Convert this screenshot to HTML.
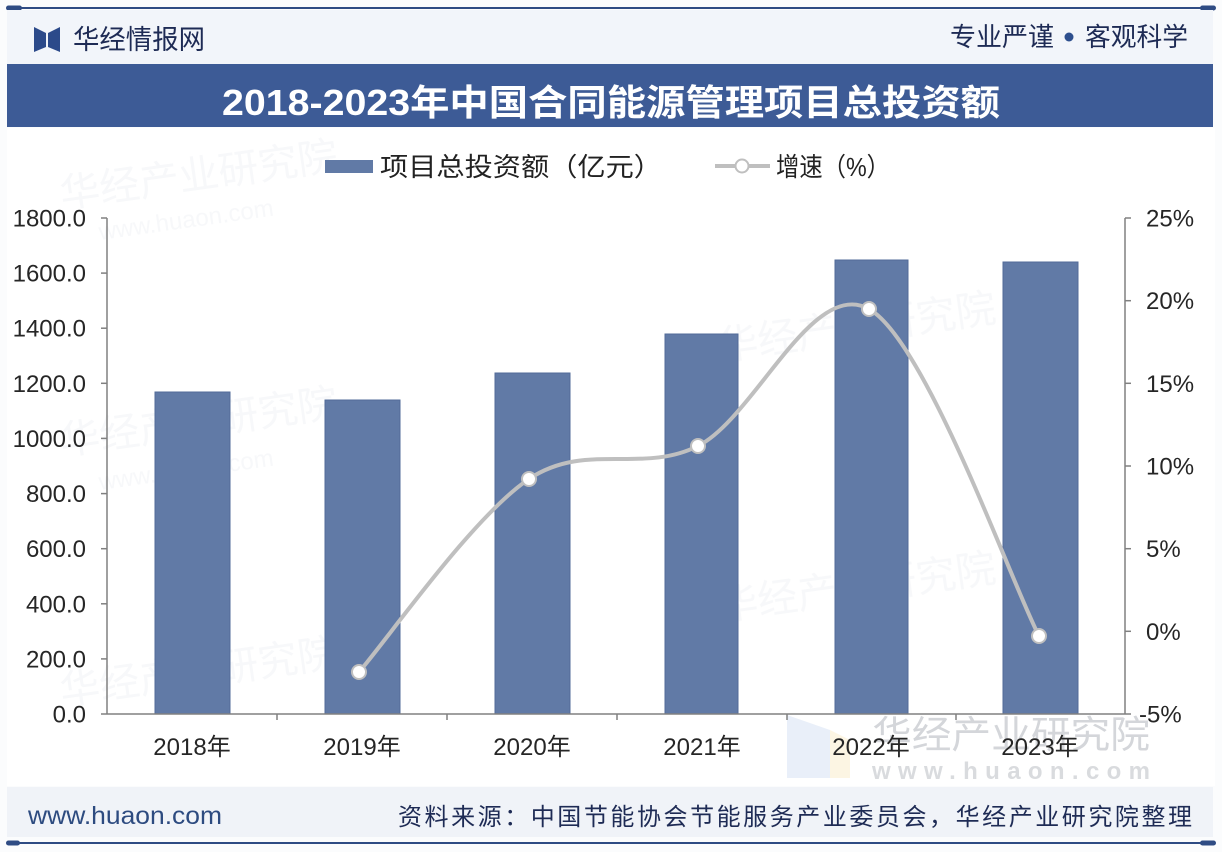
<!DOCTYPE html>
<html>
<head>
<meta charset="utf-8">
<style>
html,body{margin:0;padding:0;background:#fbfcfd;}
svg{display:block;}
</style>
</head>
<body>
<svg width="1222" height="852" viewBox="0 0 1222 852" xmlns="http://www.w3.org/2000/svg">
  <!-- background -->
  <rect x="0" y="0" width="1222" height="852" fill="#fbfcfd"/>
  <rect x="7" y="128" width="1208" height="658" fill="#ffffff"/>

  <!-- top line -->
  <line x1="9" y1="8" x2="1213" y2="8" stroke="#2f4c84" stroke-width="2"/>
  <rect x="6" y="5.5" width="16" height="5" rx="2.5" fill="#2f4c84"/>
  <rect x="1200" y="5.5" width="16" height="5" rx="2.5" fill="#2f4c84"/>

  <!-- header band -->
  <rect x="7" y="10" width="1206" height="54" fill="#f2f5fa"/>
  <polygon points="34,27 46,33 46,47 34,52" fill="#2c4a8a"/>
  <polygon points="60,27 48,33 48,47 60,52" fill="#2c4a8a"/>
  <text x="73" y="49" font-family="'Liberation Sans','Noto Sans CJK SC',sans-serif" font-size="27" fill="#1e2b55" textLength="132" lengthAdjust="spacingAndGlyphs">华经情报网</text>
  <text x="950" y="46" font-family="'Liberation Sans','Noto Sans CJK SC',sans-serif" font-size="26" fill="#1e2b55" textLength="104" lengthAdjust="spacingAndGlyphs">专业严谨</text>
  <circle cx="1069" cy="37" r="4.5" fill="#2d4f8e"/>
  <text x="1085" y="46" font-family="'Liberation Sans','Noto Sans CJK SC',sans-serif" font-size="26" fill="#1e2b55" textLength="103" lengthAdjust="spacingAndGlyphs">客观科学</text>

  <!-- title band -->
  <rect x="7" y="64" width="1206" height="63" fill="#3d5b96"/>
  <text x="222" y="115" font-family="'Liberation Sans','Noto Sans CJK SC',sans-serif" font-weight="bold" font-size="36" fill="#ffffff" textLength="778" lengthAdjust="spacingAndGlyphs">2018-2023年中国合同能源管理项目总投资额</text>

  <!-- watermarks -->
  <g font-family="'Liberation Sans','Noto Sans CJK SC',sans-serif" fill="#9aa6b8" opacity="0.08">
    <text x="62" y="208" font-size="40" transform="rotate(-8 62 208)">华经产业研究院</text>
    <text x="100" y="240" font-size="24" transform="rotate(-8 100 240)">www.huaon.com</text>
    <text x="62" y="455" font-size="40" transform="rotate(-8 62 455)">华经产业研究院</text>
    <text x="100" y="490" font-size="24" transform="rotate(-8 100 490)">www.huaon.com</text>
    <text x="62" y="705" font-size="40" transform="rotate(-8 62 705)">华经产业研究院</text>
    <text x="720" y="360" font-size="40" transform="rotate(-8 720 360)">华经产业研究院</text>
    <text x="720" y="620" font-size="40" transform="rotate(-8 720 620)">华经产业研究院</text>
  </g>
  <polygon points="787,715 830,730 830,778 787,778" fill="#e3ebf7" opacity="0.8"/>
  <polygon points="830,730 850,740 850,778 830,778" fill="#fbf3dc" opacity="0.8"/>
  <text x="872" y="748" font-family="'Liberation Sans','Noto Sans CJK SC',sans-serif" font-size="38" fill="#d4d6da" textLength="278" lengthAdjust="spacingAndGlyphs">华经产业研究院</text>
  <text x="872" y="779" font-family="'Liberation Sans',sans-serif" font-size="24" font-weight="bold" fill="#d9dbde" textLength="278" lengthAdjust="spacing">www.huaon.com</text>

  <!-- legend -->
  <rect x="325" y="160" width="48" height="13" fill="#617aa6"/>
  <text x="380" y="176" font-family="'Liberation Sans','Noto Sans CJK SC',sans-serif" font-size="26" fill="#222222" textLength="282" lengthAdjust="spacingAndGlyphs">项目总投资额（亿元）</text>
  <line x1="715" y1="166" x2="770" y2="166" stroke="#bfbfbf" stroke-width="4"/>
  <circle cx="742" cy="166" r="6.5" fill="#ffffff" stroke="#bfbfbf" stroke-width="2"/>
  <text x="776" y="176" font-family="'Liberation Sans','Noto Sans CJK SC',sans-serif" font-size="26" fill="#222222" textLength="114" lengthAdjust="spacingAndGlyphs">增速（%）</text>

  <!-- bars -->
  <g fill="#617aa6" stroke="#526b98" stroke-width="1">
    <rect x="155" y="392" width="75" height="322"/>
    <rect x="325" y="400" width="75" height="314"/>
    <rect x="495" y="373" width="75" height="341"/>
    <rect x="665" y="334" width="73" height="380"/>
    <rect x="835" y="260" width="73" height="454"/>
    <rect x="1003" y="262" width="75" height="452"/>
  </g>

  <!-- axes -->
  <g stroke="#808080" stroke-width="1.5" fill="none">
    <line x1="107" y1="218" x2="107" y2="714"/>
    <line x1="1125" y1="218" x2="1125" y2="714"/>
    <line x1="101" y1="714" x2="1131" y2="714"/>
    <!-- left ticks -->
    <line x1="101" y1="218" x2="107" y2="218"/>
    <line x1="101" y1="273.1" x2="107" y2="273.1"/>
    <line x1="101" y1="328.2" x2="107" y2="328.2"/>
    <line x1="101" y1="383.3" x2="107" y2="383.3"/>
    <line x1="101" y1="438.4" x2="107" y2="438.4"/>
    <line x1="101" y1="493.6" x2="107" y2="493.6"/>
    <line x1="101" y1="548.7" x2="107" y2="548.7"/>
    <line x1="101" y1="603.8" x2="107" y2="603.8"/>
    <line x1="101" y1="658.9" x2="107" y2="658.9"/>
    <!-- right ticks -->
    <line x1="1125" y1="218" x2="1131" y2="218"/>
    <line x1="1125" y1="300.7" x2="1131" y2="300.7"/>
    <line x1="1125" y1="383.3" x2="1131" y2="383.3"/>
    <line x1="1125" y1="466" x2="1131" y2="466"/>
    <line x1="1125" y1="548.7" x2="1131" y2="548.7"/>
    <line x1="1125" y1="631.3" x2="1131" y2="631.3"/>
    <!-- category ticks -->
    <line x1="277" y1="714" x2="277" y2="720"/>
    <line x1="447" y1="714" x2="447" y2="720"/>
    <line x1="617" y1="714" x2="617" y2="720"/>
    <line x1="787" y1="714" x2="787" y2="720"/>
    <line x1="956" y1="714" x2="956" y2="720"/>
  </g>

  <!-- left labels -->
  <g font-family="'Liberation Sans',sans-serif" font-size="24" fill="#262626" text-anchor="end">
    <text x="86" y="226.5">1800.0</text>
    <text x="86" y="281.6">1600.0</text>
    <text x="86" y="336.7">1400.0</text>
    <text x="86" y="391.8">1200.0</text>
    <text x="86" y="446.9">1000.0</text>
    <text x="86" y="502.1">800.0</text>
    <text x="86" y="557.2">600.0</text>
    <text x="86" y="612.3">400.0</text>
    <text x="86" y="667.4">200.0</text>
    <text x="86" y="722.5">0.0</text>
  </g>
  <!-- right labels -->
  <g font-family="'Liberation Sans',sans-serif" font-size="24" fill="#262626" text-anchor="start">
    <text x="1146" y="226.5">25%</text>
    <text x="1146" y="309.2">20%</text>
    <text x="1146" y="391.8">15%</text>
    <text x="1146" y="474.5">10%</text>
    <text x="1146" y="557.2">5%</text>
    <text x="1146" y="639.8">0%</text>
    <text x="1139" y="722.5">-5%</text>
  </g>
  <!-- x labels -->
  <g font-family="'Liberation Sans','Noto Sans CJK SC',sans-serif" font-size="24" fill="#262626" text-anchor="middle">
    <text x="192" y="755">2018年</text>
    <text x="362" y="755">2019年</text>
    <text x="532" y="755">2020年</text>
    <text x="702" y="755">2021年</text>
    <text x="871" y="755">2022年</text>
    <text x="1040" y="755">2023年</text>
  </g>

  <!-- growth line -->
  <path d="M359,672 C387.3,639.8 472.5,516.7 529,479 C585.5,441.3 641.3,474.3 698,446 C754.7,417.7 812.2,277.3 869,309 C925.8,340.7 1010.7,581.5 1039,636"
        fill="none" stroke="#bfbfbf" stroke-width="4" stroke-linecap="round"/>
  <g fill="#ffffff" stroke="#bfbfbf" stroke-width="2">
    <circle cx="359" cy="672" r="7"/>
    <circle cx="529" cy="479" r="7"/>
    <circle cx="698" cy="446" r="7"/>
    <circle cx="869" cy="309" r="7"/>
    <circle cx="1039" cy="636" r="7"/>
  </g>

  <!-- footer -->
  <rect x="7" y="787" width="1206" height="50" fill="#f0f3f8"/>
  <text x="28" y="824" font-family="'Liberation Sans',sans-serif" font-size="25" fill="#2d4b80" textLength="194" lengthAdjust="spacingAndGlyphs">www.huaon.com</text>
  <text x="398" y="825" font-family="'Liberation Sans','Noto Sans CJK SC',sans-serif" font-size="24" fill="#1e2b55" textLength="794" lengthAdjust="spacing">资料来源：中国节能协会节能服务产业委员会，华经产业研究院整理</text>

  <!-- bottom line -->
  <line x1="9" y1="843" x2="1213" y2="843" stroke="#2f4c84" stroke-width="2"/>
  <rect x="6" y="840.5" width="14" height="5" rx="2.5" fill="#2f4c84"/>
  <rect x="1200" y="840.5" width="16" height="5" rx="2.5" fill="#2f4c84"/>
</svg>
</body>
</html>
